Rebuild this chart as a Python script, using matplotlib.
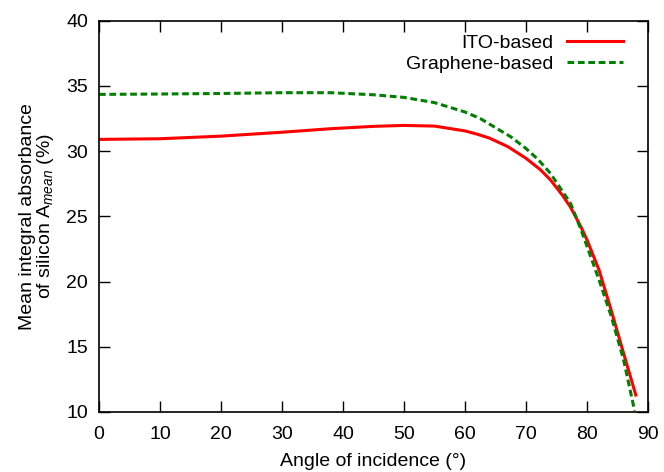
import matplotlib
matplotlib.use("Agg")
import matplotlib.pyplot as plt
import numpy as np

plt.rcParams['font.family'] = ['Liberation Sans', 'DejaVu Sans']
plt.rcParams['mathtext.fontset'] = 'custom'
plt.rcParams['mathtext.rm'] = 'Liberation Sans'
plt.rcParams['mathtext.it'] = 'Liberation Sans:italic'

ito_angle = [0, 10, 20, 30, 38, 45, 50, 55, 60, 62, 64, 67, 70, 72.3, 74, 76, 77.3, 79, 80, 82, 84, 86, 88]
ito_vals = [30.9, 30.95, 31.15, 31.45, 31.72, 31.9, 31.97, 31.92, 31.55, 31.3, 31.0, 30.35, 29.45, 28.6, 27.8, 26.6, 25.7, 24.2, 23.2, 20.85, 17.75, 14.5, 11.3]

gr_angle = [0, 10, 20, 30, 38, 45, 50, 55, 60, 62.5, 65, 67.5, 70, 72, 74, 76, 77.3, 79, 80, 82, 84, 86, 87.8]
gr_vals = [34.35, 34.38, 34.42, 34.48, 34.48, 34.32, 34.12, 33.72, 33.0, 32.5, 31.8, 31.1, 30.2, 29.35, 28.3, 26.9, 26.0, 24.0, 22.7, 20.1, 17.3, 14.0, 10.1]

xticks = [0, 10, 20, 30, 40, 50, 60, 70, 80, 90]
yticks = [10, 15, 20, 25, 30, 35, 40]

FS = 14

fig = plt.figure(figsize=(6.64, 4.72), dpi=100)
ax = fig.add_axes([99/664, 1 - 412/472, (648 - 99)/664, (412 - 20.7)/472])

ax.plot(ito_angle, ito_vals, color='#ff0000', lw=2.2, label='ITO-based')
ax.plot(gr_angle, gr_vals, color='#008000', lw=2.2, ls=(0, (2.2, 1.2)), label='Graphene-based')

ax.set_xlim(0, 90)
ax.set_ylim(10, 40)
ax.set_xticks(xticks)
ax.set_yticks(yticks)
ax.tick_params(direction='in', length=8, width=1, top=True, right=True, labelsize=FS)
ax.tick_params(axis='x', pad=10)
ax.tick_params(axis='y', pad=8)
ax.tick_params(axis='x', labeltop=False)
ax.tick_params(axis='y', labelright=False)
for s in ax.spines.values():
    s.set_linewidth(1.2)

ax.set_xlabel('Angle of incidence (°)', fontsize=FS, labelpad=7)
ax.set_ylabel('Mean integral absorbance\nof silicon A$_{mean}$ (%)', fontsize=FS, labelpad=7, linespacing=0.95)

leg = ax.legend(loc='upper right', bbox_to_anchor=(1 - 12/549, 0.998), frameon=False, fontsize=FS,
                markerfirst=False, handlelength=2.9, handletextpad=0.7, borderaxespad=0.25,
                labelspacing=0.2)
for t in leg.get_texts():
    t.set_ha('right')

fig.savefig('out.png', dpi=100)
